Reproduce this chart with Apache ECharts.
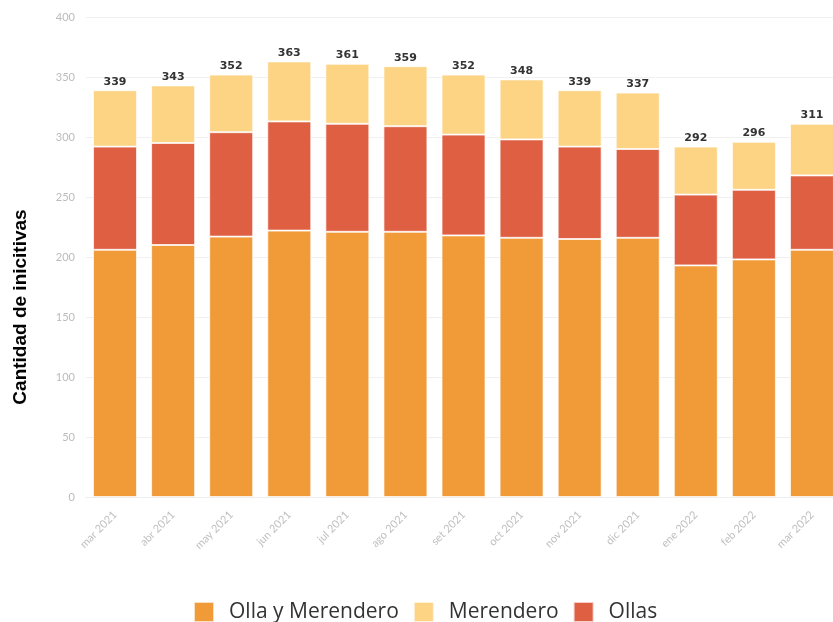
<!DOCTYPE html>
<html><head><meta charset="utf-8">
<script src="https://cdn.jsdelivr.net/npm/echarts@6/dist/echarts.min.js"></script>
<style>html,body{margin:0;padding:0;background:#fff}#c{width:833px;height:622px}</style>
</head><body><div id="c"></div>
<script>
const categories = ["mar 2021","abr 2021","may 2021","jun 2021","jul 2021","ago 2021","set 2021","oct 2021","nov 2021","dic 2021","ene 2022","feb 2022","mar 2022"];
const ollaYMerendero = [206,210,217,222,221,221,218,216,215,216,193,198,206];
const ollas = [86,85,87,91,90,88,84,82,77,74,59,58,62];
const merendero = [47,48,48,50,50,50,50,50,47,47,40,40,43];
const yTicks = [0,50,100,150,200,250,300,350,400];
const totals = categories.map((_, i) => ollaYMerendero[i] + ollas[i] + merendero[i]);

const chart = echarts.init(document.getElementById('c'));
const border = {borderColor:'rgba(255,255,255,0.7)', borderWidth:1};
chart.setOption({
  animation:false,
  grid:{left:86, top:17, width:755, height:480, outerBoundsMode:'none', containLabel:false},
  legend:{
    bottom:-6, left:188, itemWidth:20, itemHeight:20, itemGap:14,
    icon:'rect',
    textStyle:{fontFamily:'Open Sans', fontSize:21, color:'#333', padding:[0,0,0,10]},
    data:['Olla y Merendero','Merendero','Ollas']
  },
  graphic:[{type:'text', x:11, y:307, rotation:Math.PI/2, style:{text:'Cantidad de inicitivas', font:'bold 19px "Liberation Sans", Arial', fill:'#000', align:'center', verticalAlign:'top'}}],
  xAxis:{
    type:'category', data:categories,
    axisLine:{lineStyle:{color:'#eeeeee'}},
    axisTick:{alignWithLabel:true, lineStyle:{color:'#dddddd'}},
    axisLabel:{rotate:45, color:'#c0c0c0', fontFamily:'Lato', fontSize:11, margin:16}
  },
  yAxis:{
    type:'value', min:yTicks[0], max:yTicks[yTicks.length-1], interval:50,
    axisLine:{show:false}, axisTick:{show:false},
    splitLine:{lineStyle:{color:'#f0f0f0'}},
    axisLabel:{color:'#bbbbbb', fontFamily:'Lato', fontSize:11, margin:11}
  },
  series:[
    {name:'Olla y Merendero', type:'bar', stack:'a', data:ollaYMerendero, barWidth:44,
      itemStyle:Object.assign({color:'#F09A38'}, border)},
    {name:'Ollas', type:'bar', stack:'a', data:ollas,
      itemStyle:Object.assign({color:'#DF5F43'}, border)},
    {name:'Merendero', type:'bar', stack:'a', data:merendero,
      itemStyle:Object.assign({color:'#FDD384'}, border),
      label:{show:true, position:'top', distance:3, color:'#333', fontWeight:'bold', fontFamily:'DejaVu Sans', fontSize:11,
        formatter:p => totals[p.dataIndex]}}
  ]
});
</script></body></html>
